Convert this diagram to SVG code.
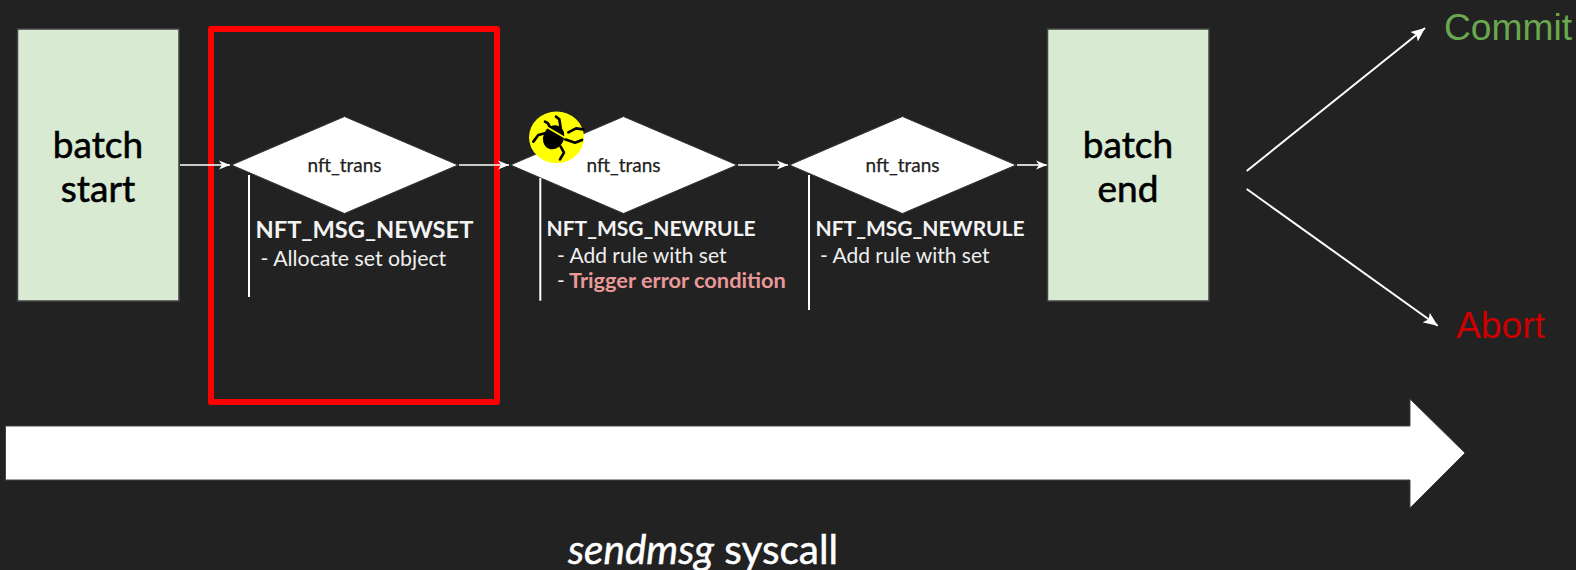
<svg xmlns="http://www.w3.org/2000/svg" width="1576" height="570" viewBox="0 0 1576 570">
<style>
text{font-family:"Lato","Open Sans",sans-serif}
.box{fill:#d9ead3;stroke:#434343;stroke-width:1.5}
.dia{fill:#fff;stroke:#333;stroke-width:1}
.big{font-size:37px;fill:#000;stroke:#000;stroke-width:.6;text-anchor:middle}
.nt{font-size:19px;fill:#222;stroke:#222;stroke-width:.25;text-anchor:middle}
.h{font-size:23.700px;font-weight:700;fill:#f3f3f3}
.h2{font-size:21px}
.b{font-size:21.300px;fill:#efefef}
.b2{font-size:21px}
.err{font-size:21.800px;font-weight:700;fill:#ea9999}
.sep{stroke:#fff;stroke-width:2;fill:none}
.c{stroke:#fff;fill:none}
.res{font-family:"Liberation Sans",Arial,sans-serif;font-size:37.200px}
.tl{font-size:40.500px;fill:#fff;stroke:#fff;stroke-width:.5}
</style>
<defs>
<marker id="ah" markerUnits="userSpaceOnUse" markerWidth="14" markerHeight="12" refX="12" refY="6" orient="auto"><path d="M1 1.500L12 6L1 10.500L4 6Z" fill="#fff"/></marker>
<marker id="ad" markerUnits="userSpaceOnUse" markerWidth="16" markerHeight="14" refX="14" refY="7" orient="auto"><path d="M0 1L14 7L0 13L3 7Z" fill="#fff"/></marker>
</defs>
<rect width="1576" height="570" fill="#222"/>
<g id="highlight"><rect x="211" y="29" width="286" height="373" fill="none" stroke="#f00" stroke-width="6" stroke-linejoin="round"/></g>
<g id="connectors">
<path class="c" stroke-width="1.6" marker-end="url(#ah)" d="M180 165H230"/>
<path class="c" stroke-width="1.6" marker-end="url(#ah)" d="M459 165H509"/>
<path class="c" stroke-width="1.6" marker-end="url(#ah)" d="M738 165H788"/>
<path class="c" stroke-width="1.6" marker-end="url(#ah)" d="M1017 165H1047"/>
<path class="c" stroke-width="2" marker-end="url(#ad)" d="M1246.700 171L1425 28"/>
<path class="c" stroke-width="2" marker-end="url(#ad)" d="M1246.700 189L1437.700 325.700"/>
</g>
<g id="batch-start"><rect class="box" x="17.500" y="29" width="161.500" height="272"/><text class="big" x="98" y="157.500">batch</text><text class="big" x="98" y="201.500">start</text></g>
<g id="trans-1"><polygon class="dia" points="231.500,165 344.500,116.500 458,165 344.500,213.500"/><text class="nt" x="344.500" y="172">nft_trans</text>
<path class="sep" d="M249 175V297"/><text class="h" x="255.500" y="238">NFT_MSG_NEWSET</text><text class="b" x="260.500" y="266">- Allocate set object</text></g>
<g id="trans-2"><polygon class="dia" points="510.500,165 623.500,116.500 737,165 623.500,213.500"/><text class="nt" x="623.500" y="172">nft_trans</text>
<path class="sep" d="M540.300 178V300.700"/><text class="h h2" x="546.500" y="236">NFT_MSG_NEWRULE</text><text class="b b2" x="557" y="262.500">- Add rule with set</text><text class="b b2" x="557" y="287.500">-</text><text class="err" x="569" y="287.500">Trigger error condition</text></g>
<g id="trans-3"><polygon class="dia" points="789.500,165 902.500,116.500 1016,165 902.500,213.500"/><text class="nt" x="902.500" y="172">nft_trans</text>
<path class="sep" d="M809 175V310"/><text class="h h2" x="815.500" y="236">NFT_MSG_NEWRULE</text><text class="b b2" x="820" y="262.500">- Add rule with set</text></g>
<g id="batch-end"><rect class="box" x="1047.500" y="29" width="161.500" height="272"/><text class="big" x="1128" y="157.500">batch</text><text class="big" x="1128" y="201.500">end</text></g>
<g id="bug"><ellipse cx="556.500" cy="137.300" rx="27.500" ry="25.800" fill="#ff0"/>
<g fill="none" stroke="#000" stroke-width="8" stroke-linecap="round" stroke-linejoin="round" transform="translate(520 100) scale(.3333)">
<ellipse cx="101" cy="112" rx="31" ry="37" transform="rotate(25 101 112)" fill="#000" stroke="none"/>
<path d="M75 65L84 70L95 92M108 50L118 58L122 84M40 125L55 105L75 100M190 88L168 85L145 97M186 120L165 128L135 118M120 178L132 158L122 140"/>
<path d="M85 84L135 113" stroke="#ff0" stroke-width="5"/>
</g></g>
<g id="commit"><text class="res" x="1444" y="40" fill="#6aa84f">Commit</text></g>
<g id="abort"><text class="res" x="1456" y="338" fill="#c00">Abort</text></g>
<g id="timeline"><polygon points="5.500,426 1410,426 1410,399 1465,453 1410,508 1410,480 5.500,480" fill="#fff" stroke="#444" stroke-width="1"/><text class="tl" x="703" y="564" text-anchor="middle"><tspan font-style="italic">sendmsg</tspan> syscall</text></g>
</svg>
